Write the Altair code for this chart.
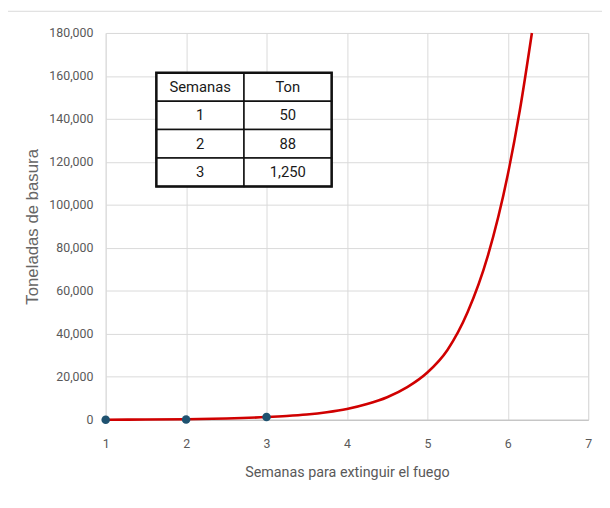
import altair as alt
import pandas as pd

# ---- data ----
semanas = [1, 2, 3]
toneladas = [50, 88, 1250]

curva_semanas = [1.0, 1.5, 2.0, 2.5, 3.0, 3.25, 3.5, 3.75, 4.0, 4.25, 4.5, 4.75, 5.0,
                 5.25, 5.5, 5.75, 6.0, 6.15, 6.3]
curva_toneladas = [50, 120, 280, 600, 1250, 1750, 2450, 3500, 5000, 7300, 10500, 15200,
                   22000, 32500, 50000, 76000, 114000, 144000, 180000]

x_ticks = [1, 2, 3, 4, 5, 6, 7]
y_ticks = [0, 20000, 40000, 60000, 80000, 100000, 120000, 140000, 160000, 180000]

tabla_encabezado = ["Semanas", "Ton"]

# ---- table layout (in data units of the chart) ----
TABLE_X_EDGES = [1.63, 2.72, 3.81]
TABLE_Y_TOP = 161500
TABLE_ROW_H = 13225

FONT = "Roboto, Liberation Sans, sans-serif"
GRAY = "#595959"
GRID = "#d9d9d9"

curve_df = pd.DataFrame({"semana": curva_semanas, "ton": curva_toneladas})
pts_df = pd.DataFrame({"semana": semanas, "ton": toneladas})

rows = [tabla_encabezado] + [[str(s), f"{t:,}"] for s, t in zip(semanas, toneladas)]
cells = []
for r, row in enumerate(rows):
    y0 = TABLE_Y_TOP - r * TABLE_ROW_H
    y1 = y0 - TABLE_ROW_H
    for c, txt in enumerate(row):
        x0, x1 = TABLE_X_EDGES[c], TABLE_X_EDGES[c + 1]
        cells.append({"semana": x0, "x1": x1, "ton": y0, "y1": y1,
                      "xc": (x0 + x1) / 2, "yc": (y0 + y1) / 2, "t": txt})
cells_df = pd.DataFrame(cells)
outer_df = pd.DataFrame([{"semana": TABLE_X_EDGES[0], "x1": TABLE_X_EDGES[-1],
                          "ton": TABLE_Y_TOP, "y1": TABLE_Y_TOP - len(rows) * TABLE_ROW_H}])

xs = alt.Scale(domain=[1, 7], nice=False, zero=False)
ys = alt.Scale(domain=[0, 180000], nice=False)

x_axis = alt.Axis(values=x_ticks, labelExpr="format(datum.value, 'd')", ticks=False,
                  domainColor="#bfbfbf",
                  labelPadding=18, labelFont=FONT, labelFontSize=12.5, labelColor=GRAY,
                  titleFont=FONT, titleFontSize=14.5, titleFontWeight="normal",
                  titleColor=GRAY, titlePadding=16, gridColor=GRID, labelFlush=False)
y_axis = alt.Axis(values=y_ticks, labelExpr="format(datum.value, ',')", ticks=False,
                  domain=False,
                  labelPadding=13, labelFont=FONT, labelFontSize=12.5, labelColor=GRAY,
                  titleFont="Liberation Sans", titleFontSize=17, titleFontWeight="normal",
                  titleColor="#666666", titlePadding=7, gridColor=GRID)

XT = "Semanas para extinguir el fuego"
YT = "Toneladas de basura"


def X(field):
    return alt.X(field, scale=xs, axis=x_axis, title=XT)


def Y(field):
    return alt.Y(field, scale=ys, axis=y_axis, title=YT)


frame = alt.Chart(pd.DataFrame({"a": [0]})).mark_rect(
    fill="transparent", stroke="#d9d9d9", strokeWidth=1
).encode(x=alt.value(-100), x2=alt.value(520), y=alt.value(-22), y2=alt.value(477))

line = alt.Chart(curve_df).mark_line(color="#d00000", strokeWidth=2.6,
                                     interpolate="monotone").encode(
    x=X("semana:Q"), y=Y("ton:Q"),
)

points = alt.Chart(pts_df).mark_circle(color="#1f5270", size=75, opacity=1).encode(
    x=X("semana:Q"), y=Y("ton:Q"),
)

cell_rects = alt.Chart(cells_df).mark_rect(fill="white", stroke="#111111",
                                           strokeWidth=1.5).encode(
    x=X("semana:Q"), x2="x1:Q", y=Y("ton:Q"), y2="y1:Q",
)
outer = alt.Chart(outer_df).mark_rect(fill="transparent", stroke="#111111",
                                      strokeWidth=2.5).encode(
    x=X("semana:Q"), x2="x1:Q", y=Y("ton:Q"), y2="y1:Q",
)
cell_text = alt.Chart(cells_df).mark_text(font=FONT, fontSize=15, color="#1a1a1a",
                                          baseline="middle", align="center").encode(
    x=X("xc:Q"), y=Y("yc:Q"), text="t:N",
)

chart = alt.layer(line, points, cell_rects, outer, cell_text, frame).properties(
    width=489, height=392,
    padding={"left": 99, "top": 22, "right": 14, "bottom": 78},
    autosize=alt.AutoSizeParams(type="none"),
).configure_view(stroke=GRID).configure(background="white")

chart.save("out.html", embed_options={"renderer": "svg", "actions": False})
